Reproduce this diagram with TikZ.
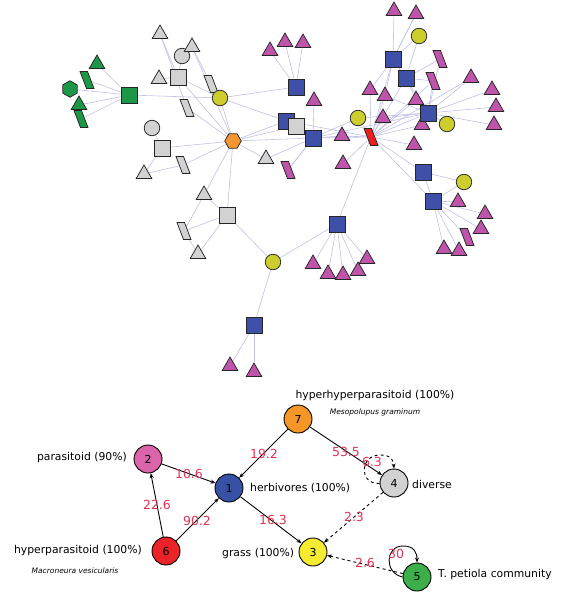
\documentclass[tikz,border=0pt]{standalone}
\usepackage{fontspec}
\setmainfont{DejaVu Sans}
\usetikzlibrary{shapes.geometric,arrows.meta}
\pgfdeclarelayer{bg}
\pgfsetlayers{bg,main}
\definecolor{greenN}{RGB}{30,150,72}
\definecolor{grayN}{RGB}{210,210,210}
\definecolor{yelN}{RGB}{205,205,45}
\definecolor{blueN}{RGB}{62,80,168}
\definecolor{magN}{RGB}{190,85,170}
\definecolor{orangeN}{RGB}{245,150,50}
\definecolor{redN}{RGB}{235,30,30}
\definecolor{edgeN}{RGB}{192,192,228}
\definecolor{labred}{RGB}{228,50,85}
\definecolor{c7}{RGB}{245,150,40}
\definecolor{c2}{RGB}{220,100,170}
\definecolor{c1}{RGB}{55,82,165}
\definecolor{c4}{RGB}{210,210,210}
\definecolor{c6}{RGB}{235,35,40}
\definecolor{c3}{RGB}{245,235,50}
\definecolor{c5}{RGB}{60,175,75}
\tikzset{
  base/.style={draw=black!85, line width=0.75pt, inner sep=0pt},
  tri/.style={base, regular polygon, regular polygon sides=3, minimum size=18pt, yshift=-2pt},
  sq/.style={base, rectangle, minimum size=16pt},
  circ/.style={base, circle, minimum size=15.5pt},
  hexa/.style={base, regular polygon, regular polygon sides=6, minimum size=16.5pt},
  net/.style={draw=edgeN, line width=0.6pt},
  big/.style={draw=black, line width=0.9pt, circle, minimum size=28pt, inner sep=0pt, font=\fontsize{11}{13}\selectfont},
  arr/.style={draw=black, line width=0.9pt, -{Stealth[length=5pt,width=4pt]}},
  lab/.style={text=labred, font=\fontsize{12.5}{14}\selectfont, inner sep=0pt},
  txt/.style={font=\fontsize{10.8}{13}\selectfont, inner sep=0pt},
  sub/.style={font=\fontsize{7.5}{9}\selectfont\itshape, inner sep=0pt}
}
\newcommand{\parnode}[4]{%
  \node[inner sep=0pt,minimum size=8pt] (#1) at (#2,#3) {};
  \draw[base,fill=#4] ([shift={(-7pt,8.5pt)}]#1.center) -- ([shift={(0.5pt,8.5pt)}]#1.center)
     -- ([shift={(7pt,-8.5pt)}]#1.center) -- ([shift={(-0.5pt,-8.5pt)}]#1.center) -- cycle;}
\begin{document}
\begin{tikzpicture}[x=1pt,y=-1pt]
\useasboundingbox (0,0) rectangle (569,600);
% ---- green cluster
\node[sq,fill=greenN] (g0) at (129,95) {};
\node[tri,fill=greenN] (g1) at (97,62) {};
\parnode{g2}{87}{80}{greenN}
\node[hexa,fill=greenN,rotate=30] (g3) at (70,89) {};
\node[tri,fill=greenN] (g4) at (79,103) {};
\parnode{g5}{81}{119}{greenN}
% ---- gray cluster
\node[tri,fill=grayN] (a1) at (160,32) {};
\node[circ,fill=grayN] (a2) at (182,56) {};
\node[tri,fill=grayN] (a3) at (192,45) {};
\node[tri,fill=grayN] (a4) at (159,77) {};
\node[sq,fill=grayN] (a5) at (178,77) {};
\parnode{a6}{211}{84}{grayN}
\node[circ,fill=yelN] (y1) at (220,98) {};
\parnode{a7}{187}{108}{grayN}
\node[circ,fill=grayN] (a8) at (152,128) {};
\node[sq,fill=grayN] (a9) at (162,148) {};
\node[hexa,fill=orangeN] (h) at (233,141) {};
\parnode{a10}{183}{165}{grayN}
\node[tri,fill=grayN] (a11) at (144,172) {};
\node[tri,fill=grayN] (a12) at (266,157) {};
\node[tri,fill=grayN] (a13) at (204,193) {};
\node[sq,fill=grayN] (a14) at (227,215) {};
\parnode{a15}{184}{231}{grayN}
\node[tri,fill=grayN] (a16) at (198,252) {};
% ---- centre / right
\node[tri,fill=magN] (m1) at (270,49) {};
\node[tri,fill=magN] (m2) at (285,40) {};
\node[tri,fill=magN] (m3) at (303,41) {};
\node[sq,fill=blueN] (b1) at (296,87) {};
\node[tri,fill=magN] (m4) at (314,99) {};
\node[sq,fill=blueN] (b2) at (286,121) {};
\node[sq,fill=grayN] (a17) at (296,126) {};
\node[sq,fill=blueN] (b3) at (313,138) {};
\parnode{m5}{288}{170}{magN}
\node[circ,fill=yelN] (y3) at (358,118) {};
\node[tri,fill=magN] (m6) at (342,134) {};
\node[tri,fill=magN] (m7) at (343,162) {};
\node[tri,fill=magN] (m8) at (394,9) {};
\node[tri,fill=magN] (m9) at (416,12) {};
\node[circ,fill=yelN] (y4) at (419,36) {};
\node[sq,fill=blueN] (b4) at (393,59) {};
\parnode{m10}{440}{59}{magN}
\node[sq,fill=blueN] (b5) at (406,78) {};
\parnode{m11}{433}{81}{magN}
\node[tri,fill=magN] (m12) at (471,76) {};
\node[tri,fill=magN] (m13) at (492,88) {};
\node[tri,fill=magN] (m14) at (496,105) {};
\node[tri,fill=magN] (m15) at (494,123) {};
\node[tri,fill=magN] (m16) at (370,88) {};
\node[tri,fill=magN] (m17) at (385,94) {};
\node[tri,fill=magN] (m18) at (416,98) {};
\node[tri,fill=magN] (m19) at (383,116) {};
\node[tri,fill=magN] (m20) at (422,123) {};
\node[sq,fill=blueN] (b6) at (428,113) {};
\node[circ,fill=yelN] (y5) at (447,124) {};
\parnode{r}{371}{137}{redN}
\node[tri,fill=magN] (m21) at (414,143) {};
\node[sq,fill=blueN] (b7) at (423,172) {};
\node[circ,fill=yelN] (y6) at (464,182) {};
\node[sq,fill=blueN] (b8) at (433,201) {};
\node[tri,fill=magN] (m22) at (458,200) {};
\node[tri,fill=magN] (m23) at (485,212) {};
\node[tri,fill=magN] (m24) at (481,227) {};
\parnode{m25}{467}{237}{magN}
\node[tri,fill=magN] (m26) at (444,247) {};
\node[tri,fill=magN] (m27) at (459,249) {};
\node[sq,fill=blueN] (b9) at (337,224) {};
\node[tri,fill=magN] (m28) at (313,262) {};
\node[tri,fill=magN] (m32) at (367,257) {};
\node[tri,fill=magN] (m31) at (358,269) {};
\node[tri,fill=magN] (m29) at (328,272) {};
\node[tri,fill=magN] (m30) at (343,273) {};
\node[circ,fill=yelN] (y2) at (273,262) {};
\node[sq,fill=blueN] (b10) at (254,325) {};
\node[tri,fill=magN] (m33) at (230,364) {};
\node[tri,fill=magN] (m34) at (254,370) {};
\begin{pgfonlayer}{bg}
\foreach \a/\b in {g1/g0,g2/g0,g3/g0,g4/g0,g5/g0,g0/y1,
  a1/a5,a2/a5,a4/a5,a3/a6,a5/y1,a6/y1,a5/h,a7/h,a1/a7,y1/h,a3/h,
  h/a9,h/a10,a8/a9,a9/a11,a10/a11,h/a12,h/a13,h/a14,a13/a14,a15/a14,a16/a14,a13/a15,a15/a16,
  y1/b1,y1/b2,h/b2,h/b3,h/a17,b1/m1,b1/m2,b1/m3,m4/b3,b3/m5,b3/y3,b3/r,b3/m6,b2/r,a12/b3,m5/b3,
  r/m16,r/m17,r/m18,r/m19,r/b4,r/b5,r/b6,r/m21,r/b7,r/b8,r/b9,r/m6,r/m7,r/y3,r/m11,r/m12,r/m20,
  b4/m8,b4/m9,b4/y4,b4/b6,b5/m10,b5/m11,b4/m16,b4/m17,b5/m18,m9/b4,y4/b5,
  b6/m11,b6/m10,b6/m12,b6/m13,b6/m14,b6/m15,b6/m20,b6/y5,b6/m18,b6/m19,b6/m17,b3/b6,y3/b6,
  b7/y6,b8/y6,b7/b8,b8/m22,b8/m23,b8/m24,b8/m25,b8/m26,b8/m27,
  b9/m28,b9/m29,b9/m30,b9/m31,b9/m32,b9/y2,y2/a14,y2/b10,b10/m33,b10/m34}
  \draw[net] (\a) -- (\b);
\end{pgfonlayer}
% ---- bottom graph
\node[big,fill=c7] (n7) at (298,419) {7};
\node[big,fill=c2] (n2) at (148,459) {2};
\node[big,fill=c1] (n1) at (229,488) {1};
\node[big,fill=c4] (n4) at (394,483) {4};
\node[big,fill=c6] (n6) at (166,551) {6};
\node[big,fill=c3] (n3) at (313,552) {3};
\node[big,fill=c5] (n5) at (417,577) {5};
\draw[arr] (n7) -- (n1);
\draw[arr] (n2) -- (n1);
\draw[arr] (n6) -- (n2);
\draw[arr] (n6) -- (n1);
\draw[arr] (n1) -- (n3);
\draw[arr] (n7) -- (n4);
\draw[arr,dashed] (n4) -- (n3);
\draw[arr,dashed] (n5) -- (n3);
\draw[arr,dashed] (n4.182) .. controls (358,484) and (360,455) .. (380,455) .. controls (390,455) and (393,458) .. (n4.north);
\draw[arr] (n5.west) .. controls (384,573) and (385,546) .. (403,546) .. controls (414,546) and (417,552) .. (n5.north);
\node[lab] (l19) at (264,454) {19.2};
\node[lab] (l10) at (189,474) {10.6};
\node[lab] (l22) at (157,505) {22.6};
\node[lab] (l90) at (197,521) {90.2};
\node[lab] (l16) at (273,520) {16.3};
\node[lab] (l53) at (346,452) {53.5};
\node[lab] (l63) at (372,462) {6.3};
\node[lab] (l23) at (354,517) {2.3};
\node[lab] (l26) at (365,563) {2.6};
\node[lab] (l30) at (396,554) {30};
\node[txt] (t7) at (375,396) {hyperhyperparasitoid (100\%)};
\node[sub] (s7) at (375,412) {Mesopolupus graminum};
\node[txt,anchor=east] (t2) at (127,458) {parasitoid (90\%)};
\node[txt,anchor=west] (t1) at (250,488) {herbivores (100\%)};
\node[txt,anchor=west] (t4) at (412,484) {diverse};
\node[txt,anchor=east] (t6) at (142,551) {hyperparasitoid (100\%)};
\node[sub] (s6) at (75,571) {Macroneura vesicularis};
\node[txt,anchor=west] (t3) at (222,554) {grass (100\%)};
\node[txt,anchor=west] (t5) at (438,575) {T. petiola community};
\end{tikzpicture}
\end{document}
